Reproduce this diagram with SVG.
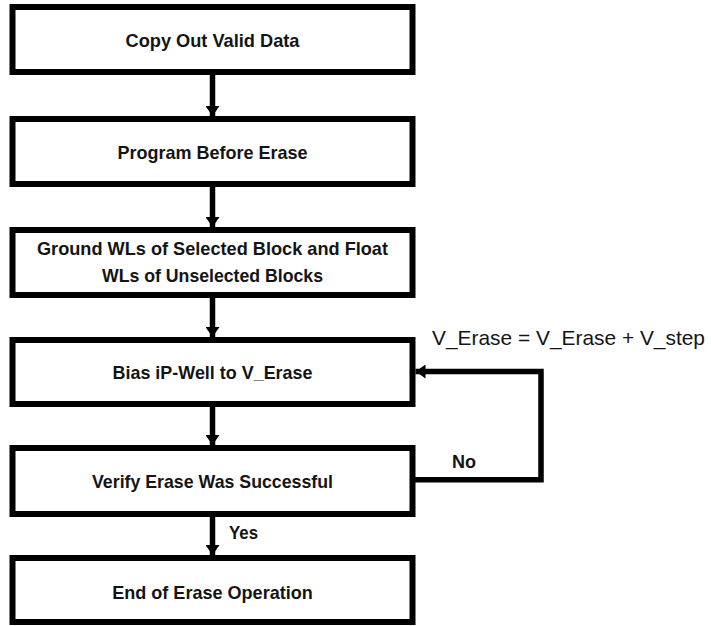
<svg xmlns="http://www.w3.org/2000/svg" width="711" height="626" viewBox="0 0 711 626">
<style>
.box{fill:#fff;stroke:#000;stroke-width:6}
.t{font-family:"Liberation Sans",Arial,sans-serif;font-weight:bold;font-size:19px;fill:#141414;text-anchor:middle}
.lbl{font-family:"Liberation Sans",Arial,sans-serif;font-weight:bold;font-size:19px;fill:#141414}
.lr{font-family:"Liberation Sans",Arial,sans-serif;font-size:21px;fill:#141414}
.c{fill:none;stroke:#000;stroke-width:5.5;stroke-linejoin:miter}
</style>
<defs>
<marker id="ah" markerUnits="userSpaceOnUse" markerWidth="10" markerHeight="14" refX="10" refY="7" orient="auto">
<path d="M0,0 L10,7 L0,14 Z" fill="#000"/>
</marker>
</defs>
<rect width="711" height="626" fill="#fff"/>
<g id="connectors">
<line class="c" x1="212.5" y1="75" x2="212.5" y2="116" marker-end="url(#ah)"/>
<line class="c" x1="212.5" y1="187" x2="212.5" y2="227" marker-end="url(#ah)"/>
<line class="c" x1="212.5" y1="298" x2="212.5" y2="337" marker-end="url(#ah)"/>
<line class="c" x1="212.5" y1="407" x2="212.5" y2="445" marker-end="url(#ah)"/>
<line class="c" x1="212.5" y1="517" x2="212.5" y2="555" marker-end="url(#ah)"/>
<polyline class="c" points="415,479.7 541,479.7 541,371.5 415.5,371.5" marker-end="url(#ah)"/>
<text class="lbl" x="229" y="539" textLength="29" lengthAdjust="spacingAndGlyphs">Yes</text>
<text class="lbl" x="452" y="468.3" textLength="24" lengthAdjust="spacingAndGlyphs">No</text>
<text class="lr" x="432" y="345" textLength="273" lengthAdjust="spacingAndGlyphs">V_Erase = V_Erase + V_step</text>
</g>
<g id="n1">
<rect class="box" x="12.5" y="7" width="400" height="65"/>
<text class="t" x="212.5" y="46.7" textLength="174" lengthAdjust="spacingAndGlyphs">Copy Out Valid Data</text>
</g>
<g id="n2">
<rect class="box" x="12.5" y="119" width="400" height="65"/>
<text class="t" x="212.5" y="159.3" textLength="190" lengthAdjust="spacingAndGlyphs">Program Before Erase</text>
</g>
<g id="n3">
<rect class="box" x="12.5" y="230" width="400" height="65"/>
<text class="t" x="212.5" y="255" textLength="351" lengthAdjust="spacingAndGlyphs">Ground WLs of Selected Block and Float</text>
<text class="t" x="212.5" y="281.7" textLength="221" lengthAdjust="spacingAndGlyphs">WLs of Unselected Blocks</text>
</g>
<g id="n4">
<rect class="box" x="12.5" y="340" width="400" height="64"/>
<text class="t" x="212.5" y="379.3" textLength="200" lengthAdjust="spacingAndGlyphs">Bias iP-Well to V_Erase</text>
</g>
<g id="n5">
<rect class="box" x="12.5" y="448" width="400" height="66"/>
<text class="t" x="212.5" y="487.7" textLength="241" lengthAdjust="spacingAndGlyphs">Verify Erase Was Successful</text>
</g>
<g id="n6">
<rect class="box" x="12.5" y="558" width="400" height="64"/>
<text class="t" x="212.5" y="599.3" textLength="200.6" lengthAdjust="spacingAndGlyphs">End of Erase Operation</text>
</g>
</svg>
